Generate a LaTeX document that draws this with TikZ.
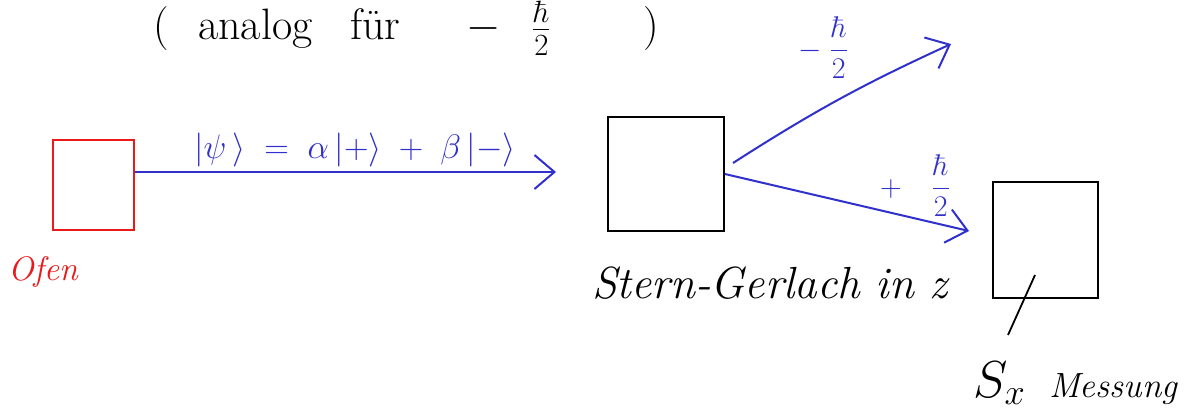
\IfFileExists{fix-cm.sty}{\RequirePackage{fix-cm}}{}
\documentclass[tikz,border=0pt]{standalone}
\usepackage{amsmath}
\usetikzlibrary{arrows.meta}
\definecolor{pen}{RGB}{48,48,205}
\definecolor{ofenred}{RGB}{235,25,25}
\begin{document}
\begin{tikzpicture}[x=1pt,y=-1pt,
  box/.style={draw,line width=1.8pt,inner sep=0pt},
  beam/.style={draw=pen,line width=2pt,-{Straight Barb[length=20pt,width=34pt,line width=2pt]}},
  lbl/.style={inner sep=0pt,font=\fontsize{30}{34}\selectfont},
  big/.style={inner sep=0pt,anchor=base west,font=\fontsize{44}{48}\selectfont}]
\useasboundingbox (0,0) rectangle (1189,412);
\clip (0,0) rectangle (1189,412);
\fill[white] (0,0) rectangle (1189,412);

% top remark
\node[big] (paropen) at (153,40) {(};
\node[big] (analog) at (198,40) {analog};
\node[big] (fuer) at (350,40) {für};
\node[big] (remminus) at (466,40) {$-$};
\node[big] (remfrac) at (532,40) {$\frac{\hbar}{2}$};
\node[big] (parclose) at (643,40) {)};

% boxes
\node[box,draw=ofenred,minimum width=81pt,minimum height=90pt] (ofen) at (93.5,185) {};
\node[lbl,text=ofenred,font=\fontsize{34}{38}\selectfont\itshape] (ofenlbl) at (43,272) {Ofen};

\node[box,minimum width=116pt,minimum height=114pt] (sg) at (666,174) {};
\node[lbl,font=\fontsize{45}{50}\selectfont\itshape] (sglbl) at (770,283) {Stern-Gerlach in z};

\node[box,minimum width=105pt,minimum height=116pt] (sx) at (1045.5,240) {};
\node[lbl,anchor=base west] (sxlbl) at (973,397)
  {{\fontsize{52}{56}\selectfont$S_x$}\hspace{24pt}{\fontsize{35}{40}\selectfont\itshape Messung}};
\coordinate (sxin) at (1035,275);
\coordinate (sxout) at (1008,335);
\draw[line width=1.8pt] (sxin) -- (sxout);

% beams
\coordinate (beamend) at (556,172);
\draw[beam] ([yshift=13pt]ofen.east) -- (beamend);
\node[lbl,text=pen,font=\fontsize{34}{38}\selectfont] (psi) at (355,150)
  {$|\psi\,\rangle \;=\; \alpha\,|{+}\rangle \;+\; \beta\,|{-}\rangle$};

\coordinate (upstart) at (733,163);
\coordinate (upend) at (951,44);
\draw[beam] (upstart) to[bend left=4] (upend);
\node[lbl,text=pen] (minuslbl) at (823,48) {$-\;\dfrac{\hbar}{2}$};

\coordinate (downend) at (969,231);
\draw[beam] (sg.east) -- (downend);
\node[lbl,text=pen] (pluslbl) at (915,186) {$+\quad\dfrac{\hbar}{2}$};
\end{tikzpicture}
\end{document}
